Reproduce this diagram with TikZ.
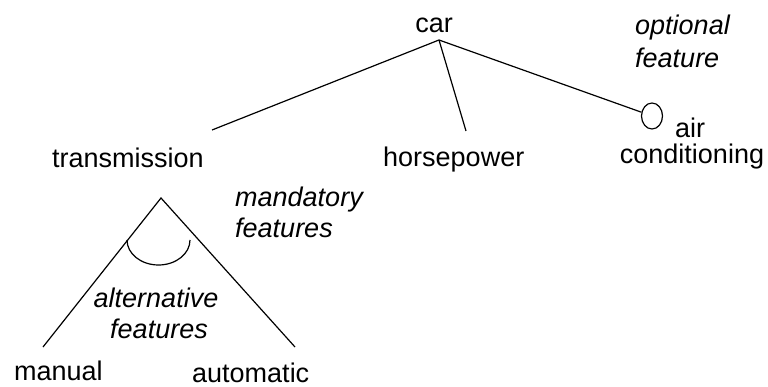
\documentclass[tikz,border=0pt]{standalone}
\usepackage{fontspec}
\setmainfont{Liberation Sans}
\usetikzlibrary{shapes.geometric}
\begin{document}
\begin{tikzpicture}[x=1pt,y=-1pt,
  feat/.style={inner sep=0pt,font=\fontsize{27}{30}\selectfont},
  note/.style={inner sep=0pt,font=\fontsize{27}{30}\selectfont\itshape},
  link/.style={draw=black,line width=1.2pt},
  optmark/.style={draw=black,line width=1.2pt,ellipse,inner sep=0pt,minimum width=21pt,minimum height=26pt}]
\useasboundingbox (0,0) rectangle (768,387);

% feature names
\node[feat,anchor=base] (car) at (434,33) {car};
\node[feat,anchor=base west] (trans) at (52,168) {transmission};
\node[feat,anchor=base west] (hp) at (383,167) {horsepower};
\node[feat,anchor=base] (air1) at (690,138) {air};
\node[feat,anchor=base] (air2) at (692,164) {conditioning};
\node[feat,anchor=base west] (manual) at (14,380) {manual};
\node[feat,anchor=base west] (auto) at (192,382) {automatic};

% explanatory notes
\node[note,anchor=base west] (opt1) at (635,35) {optional};
\node[note,anchor=base west] (opt2) at (635,68) {feature};
\node[note,anchor=base west] (man1) at (235,207) {mandatory};
\node[note,anchor=base west] (man2) at (235,238) {features};
\node[note,anchor=base] (alt1) at (156,307) {alternative};
\node[note,anchor=base] (alt2) at (159,338) {features};

% joints of the tree
\coordinate (carjoin) at (439,40);
\coordinate (transtop) at (212,130);
\coordinate (hptop) at (466,131);
\node[optmark] (optc) at (652,116) {};
\coordinate (apex) at (161,198);
\coordinate (mantop) at (43,347);
\coordinate (autotop) at (295,347);

% connectors
\draw[link] (carjoin) -- (transtop);
\draw[link] (carjoin) -- (hptop);
\draw[link] (carjoin) -- (optc);
\draw[link] (mantop) -- (apex) -- (autotop);

% alternative group arc, bulging downward
\coordinate (arcstart) at (127,240);
\draw[link] (arcstart) arc[start angle=180,end angle=0,x radius=31.5,y radius=25];
\end{tikzpicture}
\end{document}
